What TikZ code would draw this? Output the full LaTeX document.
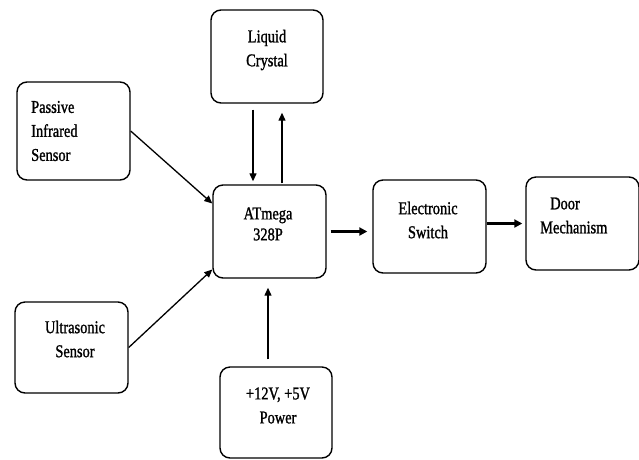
\documentclass[tikz,border=0pt]{standalone}
\usepackage{fontspec}
\setmainfont{Liberation Serif}[FakeStretch=0.8,FakeBold=1.2]
\usetikzlibrary{arrows.meta}
\begin{document}
\begin{tikzpicture}[x=1pt,y=-1pt,
  box/.style={draw, line width=1.4pt, rounded corners=10pt, inner sep=0pt},
  txt/.style={font=\fontsize{18}{24}\selectfont, inner sep=0pt},
  arr/.style={line width=1.3pt, -{Triangle[length=8pt,width=7pt]}},
  harr/.style={line width=2.6pt, -{Triangle[length=8pt,width=8pt]}}]
\useasboundingbox (0,0) rectangle (639,459);
% boxes
\node[box, minimum width=112pt, minimum height=93pt] (lcd) at (267,56.5) {};
\node[box, minimum width=113pt, minimum height=98pt] (pir) at (73.5,131) {};
\node[box, minimum width=113pt, minimum height=93pt] (atm) at (269.5,231.5) {};
\node[box, minimum width=113pt, minimum height=91pt] (us) at (71.5,347.5) {};
\node[box, minimum width=112pt, minimum height=91pt] (pw) at (276,412.5) {};
\node[box, minimum width=113pt, minimum height=93pt] (es) at (429.5,226.5) {};
\node[box, minimum width=113pt, minimum height=93pt] (dm) at (582.5,223.5) {};
% texts
\node[txt, align=center] (lcdt) at (267,50) {Liquid\\Crystal};
\node[txt, align=left, anchor=west] (pirt) at (31,131) {Passive\\Infrared\\Sensor};
\node[txt, align=center, font=\fontsize{18}{21}\selectfont] (atmt) at (268,224) {ATmega\\328P};
\node[txt, align=center] (ust) at (75,339) {Ultrasonic\\Sensor};
\node[txt, align=center] (pwt) at (278,405.5) {+12V, +5V\\Power};
\node[txt, align=center] (est) at (428,220) {Electronic\\Switch};
\node[txt, align=left, anchor=west] (dmt) at (540,215.5) {\hspace*{10pt}Door\\Mechanism};
% connectors
\draw[arr] (pir.east) -- ([yshift=28pt]atm.west);
\draw[arr] (us.east) -- ([yshift=-38pt]atm.west);
\draw[arr, shorten <=6pt, shorten >=3pt] ([xshift=-14pt]lcd.south) -- ([xshift=-16.5pt]atm.north);
\draw[arr, shorten <=1pt, shorten >=9pt] ([xshift=12.5pt]atm.north) -- ([xshift=15pt]lcd.south);
\draw[arr, shorten <=7pt, shorten >=9pt] ([xshift=-8pt]pw.north) -- ([xshift=-1.5pt]atm.south);
\draw[harr, shorten <=4pt, shorten >=5pt] (atm.east) -- (atm.east -| es.west);
\draw[harr, shorten >=3pt] (dm.west -| es.east) -- (dm.west);
\end{tikzpicture}
\end{document}
